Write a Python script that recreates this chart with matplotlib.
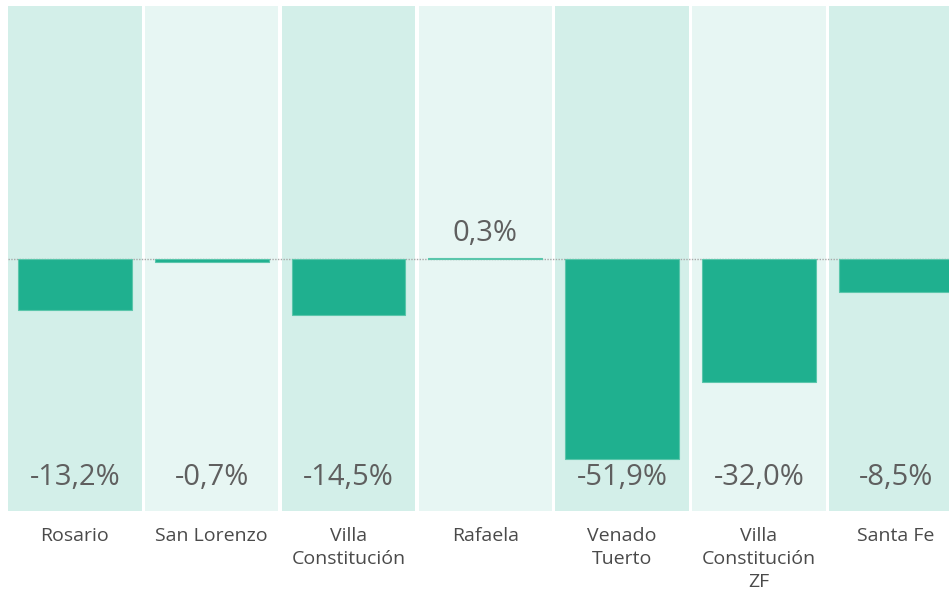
import matplotlib
matplotlib.use("Agg")
import matplotlib.pyplot as plt
import matplotlib.transforms as mtransforms

categories = ["Rosario", "San Lorenzo", "Villa\nConstitución", "Rafaela",
              "Venado\nTuerto", "Villa\nConstitución\nZF", "Santa Fe"]
values = [-13.2, -0.7, -14.5, 0.3, -51.9, -32.0, -8.5]
value_labels = ["-13,2%", "-0,7%", "-14,5%", "0,3%", "-51,9%", "-32,0%", "-8,5%"]

BAR = "#1fb08f"
BG_DARK = "#d3efe9"
BG_LIGHT = "#e7f6f3"
TXT = "#5f5f5f"
CAT = "#4a4a4a"
FONT = ["Open Sans", "DejaVu Sans"]

W, H = 949, 591
fig = plt.figure(figsize=(W / 100, H / 100), dpi=100)
ax = fig.add_axes([8 / W, (H - 511) / H, 1 - 8 / W, 505 / H])
ax.set_xlim(-0.489, 6.39)
ax.set_ylim(-65.5, 65.7)
ax.axis("off")

for i in range(len(categories)):
    ax.axvspan(i - 0.488, i + 0.488, color=BG_DARK if i % 2 == 0 else BG_LIGHT,
               lw=0, zorder=0)

ax.axhline(0, color="#a8a8a8", lw=1, ls=(0, (1, 1)), zorder=1)

x = list(range(len(categories)))
ax.bar(x, values, width=0.833, color=BAR, edgecolor="#5ac6ab", linewidth=0.8, zorder=2)

trans = mtransforms.blended_transform_factory(ax.transData, ax.transAxes)
for i, (v, lab) in enumerate(zip(values, value_labels)):
    if v < 0:
        ax.text(i, 0.0515, lab, transform=trans, ha="center", va="baseline",
                fontsize=21, color=TXT, family=FONT, zorder=3)
    else:
        ax.annotate(lab, (i, v), xytext=(0, 7), textcoords="offset points",
                    ha="center", va="bottom", fontsize=21, color=TXT,
                    family=FONT, zorder=3)

for i, c in enumerate(categories):
    ax.text(i, -0.032, c, transform=trans, ha="center", va="top",
            fontsize=14, color=CAT, family=FONT, linespacing=1.36,
            clip_on=False)

fig.savefig("out.png", dpi=100)
